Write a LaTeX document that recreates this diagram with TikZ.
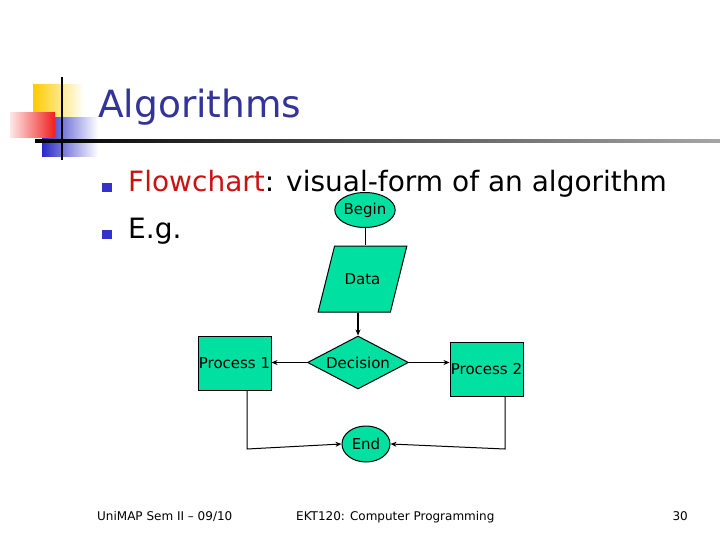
\documentclass[tikz,border=0pt]{standalone}
\usepackage{fontspec}
\setmainfont{DejaVu Sans}
\usetikzlibrary{arrows.meta,shapes.geometric}
\definecolor{titleblue}{RGB}{51,51,153}
\definecolor{bulletblue}{RGB}{51,51,204}
\definecolor{flowred}{RGB}{204,17,17}
\definecolor{flowgreen}{RGB}{0,224,160}
\definecolor{logoyellow}{RGB}{255,204,0}
\definecolor{logored}{RGB}{240,30,30}
\definecolor{logoblue}{RGB}{40,40,200}

\begin{document}
\begin{tikzpicture}[x=1pt, y=-1pt,
    every node/.style={inner sep=0pt},
    fshape/.style={draw, line width=1pt, fill=flowgreen, font=\fontsize{15}{18}\selectfont},
    term/.style={fshape, ellipse},
    procbox/.style={fshape, rectangle, minimum width=73, minimum height=54},
    link/.style={line width=1pt},
    arr/.style={-{Stealth[length=6pt,width=5pt]}},
    bigarr/.style={arr, line width=1.6pt},
    bullet/.style={fill=bulletblue}
  ]
    \useasboundingbox (0,0) rectangle (720,540);
    \fill[white] (0,0) rectangle (720,540);

    % logo squares
    \shade[left color=logoyellow, middle color=logoyellow, right color=white] (33,85) rectangle (84,118);
    \shade[left color=logoblue, middle color=logoblue, right color=white] (42,118) rectangle (98,157);
    \shade[left color=logored!10, right color=logored] (10,113) rectangle (55,138);
    \draw[line width=2.5pt] (62,77) -- (62,160);
    \shade[left color=black, right color=black!35] (35,139.5) rectangle (720,142.5);

    \node[anchor=base west, text=titleblue, font=\fontsize{37.5}{44}\selectfont] (title) at (98,118) {Algorithms};

    % bullets
    \fill[bullet] (102,183) rectangle (112,192);
    \fill[bullet] (102,230) rectangle (112,239);
    \node[anchor=base west, font=\fontsize{28}{34}\selectfont] (item1) at (128,192) {\textcolor{flowred}{Flowchart}: visual-form of an algorithm};
    \node[anchor=base west, font=\fontsize{28}{34}\selectfont] (item2) at (128,239) {E.g.};

    % flowchart
    \node[term, minimum width=54, minimum height=35] (begin) at (365,210) {Begin};
    \node[fshape, trapezium, trapezium left angle=76, trapezium right angle=104,
          text height=11pt, text depth=0pt, inner ysep=27.5pt, inner xsep=10pt] (data) at (362.5,279) {Data};
    \node[fshape, diamond, minimum width=101, minimum height=53] (decision) at (358,362.5) {\makebox[0pt]{Decision}};
    \node[procbox] (proc1) at (234.5,363.5) {Process 1};
    \node[procbox] (proc2) at (486.5,369.5) {Process 2};
    \node[term, minimum width=48, minimum height=36] (end) at (366,444) {End};

    \coordinate (c1) at (247,449);
    \coordinate (c2) at (505,449);

    \draw[link] (begin.south) -- (begin.south |- data.north);
    \draw[bigarr] (decision.north |- data.south) -- (decision.north);
    \draw[bigarr] (decision.west) -- (decision.west -| proc1.east);
    \draw[bigarr] (decision.east) -- (decision.east -| proc2.west);
    \draw[link, arr] (c1 |- proc1.south) -- (c1) -- (end.west);
    \draw[link, arr] (c2 |- proc2.south) -- (c2) -- (end.east);

    % footer
    \node[anchor=base west, font=\fontsize{12}{14}\selectfont] (foot1) at (97,520) {UniMAP Sem II – 09/10};
    \node[anchor=base west, font=\fontsize{12}{14}\selectfont] (foot2) at (296,520) {EKT120: Computer Programming};
    \node[anchor=base east, font=\fontsize{12}{14}\selectfont] (foot3) at (688,520) {30};
  \end{tikzpicture}
\end{document}
